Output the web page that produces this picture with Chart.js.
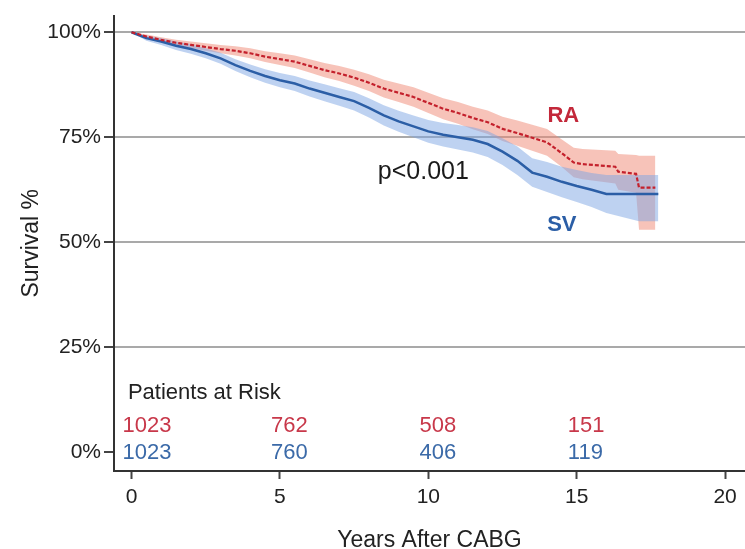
<!DOCTYPE html>
<html>
<head>
<meta charset="utf-8">
<title>Survival after CABG</title>
<script src="https://cdn.jsdelivr.net/npm/chart.js@4.4.0/dist/chart.umd.min.js"></script>
<style>
	html, body { margin: 0; padding: 0; background: #fff; }
	#wrap { width: 745px; height: 549px; }
</style>
</head>
<body>
<div id="wrap"><canvas id="kmChart" width="745" height="549"></canvas></div>
<script>
// RA (radial artery) - 시간, 생존률, 신뢰구간
const raTime = [0, 0.5, 1, 1.5, 2, 2.5, 3, 3.5, 4, 4.5, 5, 5.5, 6, 6.5, 7, 7.5, 8, 8.5, 9, 9.5, 10, 10.5, 11, 11.5, 12, 12.5, 13, 13.5, 14, 14.5, 14.9, 15.2, 16.3, 16.4, 17.0, 17.1, 17.65];
const raSurv = [100, 99.0, 98.2, 97.5, 97.0, 96.5, 96.0, 95.6, 95.0, 94.2, 93.6, 93.0, 92.0, 91.0, 90.2, 89.2, 88.0, 86.6, 85.6, 84.6, 83.2, 81.8, 80.8, 79.6, 78.6, 77.0, 76.0, 74.9, 73.8, 71.2, 69.0, 68.6, 68.0, 66.8, 66.3, 63.0, 63.0];
const raLow = [100, 98.5, 97.6, 96.8, 96.2, 95.6, 95.0, 94.5, 93.8, 92.9, 92.2, 91.5, 90.4, 89.3, 88.4, 87.3, 86.0, 84.5, 83.4, 82.3, 80.8, 79.3, 78.2, 76.9, 75.8, 74.1, 73.0, 71.8, 70.6, 67.9, 65.5, 65.0, 64.0, 62.5, 61.8, 53.0, 53.0];
const raHigh = [100, 99.5, 98.8, 98.2, 97.8, 97.4, 97.0, 96.7, 96.2, 95.5, 95.0, 94.5, 93.6, 92.7, 92.0, 91.1, 90.0, 88.7, 87.8, 86.9, 85.6, 84.3, 83.4, 82.3, 81.4, 79.9, 79.0, 78.0, 77.0, 74.5, 72.5, 72.2, 71.8, 71.0, 70.8, 70.6, 70.6];

// SV (saphenous vein)
const svTime = [0, 0.5, 1, 1.5, 2, 2.5, 3, 3.5, 4, 4.5, 5, 5.5, 6, 6.5, 7, 7.5, 8, 8.5, 9, 9.5, 10, 10.5, 11, 11.5, 12, 12.5, 13, 13.5, 14, 14.5, 15, 15.5, 16, 17.1, 17.75];
const svSurv = [100, 98.6, 97.8, 96.8, 96.0, 95.0, 93.8, 92.2, 90.8, 89.6, 88.6, 87.8, 86.6, 85.6, 84.6, 83.6, 82.0, 80.2, 78.8, 77.6, 76.4, 75.6, 75.0, 74.4, 73.4, 71.6, 69.4, 66.6, 65.6, 64.4, 63.4, 62.5, 61.5, 61.5, 61.5];
const svLow = [100, 98.0, 97.0, 95.8, 94.9, 93.8, 92.5, 90.8, 89.3, 88.0, 86.9, 86.0, 84.7, 83.6, 82.5, 81.4, 79.7, 77.8, 76.3, 75.0, 73.7, 72.8, 72.1, 71.4, 70.3, 68.4, 66.0, 63.2, 62.0, 60.7, 59.6, 58.4, 57.0, 55.0, 55.0];
const svHigh = [100, 99.2, 98.6, 97.8, 97.1, 96.2, 95.1, 93.6, 92.3, 91.2, 90.3, 89.6, 88.5, 87.6, 86.7, 85.8, 84.3, 82.6, 81.3, 80.2, 79.1, 78.4, 77.9, 77.4, 76.5, 74.8, 72.8, 70.0, 69.1, 68.0, 67.2, 66.5, 66.0, 66.0, 66.0];

// 축 눈금
const xTicks = [0, 5, 10, 15, 20];
const yTicks = [0, 25, 50, 75, 100];

// Patients at Risk
const riskYears = [0, 5, 10, 15];
const raRisk = [1023, 762, 508, 151];
const svRisk = [1023, 760, 406, 119];

const FONT = '"Liberation Sans", Arial, Helvetica, sans-serif';
const RED = '#c3283a';
const BLUE = '#2b5ea6';

const toPoints = (xs, ys) => xs.map((x, i) => ({ x: x, y: ys[i] }));

// 텍스트 표시 (RA, SV, p값, 위험 환자 수)
const labelPlugin = {
	id: 'kmLabels',
	afterDatasetsDraw: (chart) => {
		const ctx = chart.ctx;
		const xs = chart.scales.x;
		const ys = chart.scales.y;
		ctx.save();
		ctx.textBaseline = 'middle';

		ctx.font = 'bold 22px ' + FONT;
		ctx.textAlign = 'center';
		ctx.fillStyle = RED;
		ctx.fillText('RA', xs.getPixelForValue(14.55), ys.getPixelForValue(80));
		ctx.fillStyle = BLUE;
		ctx.fillText('SV', xs.getPixelForValue(14.5), ys.getPixelForValue(54.2));

		ctx.font = '25px ' + FONT;
		ctx.textAlign = 'left';
		ctx.fillStyle = '#1a1a1a';
		ctx.fillText('p<0.001', xs.getPixelForValue(8.3), ys.getPixelForValue(66.6));

		ctx.font = '22px ' + FONT;
		ctx.fillStyle = '#222';
		ctx.fillText('Patients at Risk', xs.getPixelForValue(-0.12), ys.getPixelForValue(14.1));

		riskYears.forEach((yr, i) => {
			ctx.fillStyle = '#c8384a';
			ctx.fillText(String(raRisk[i]), xs.getPixelForValue(yr - 0.3), ys.getPixelForValue(6.3));
			ctx.fillStyle = '#3b6aa8';
			ctx.fillText(String(svRisk[i]), xs.getPixelForValue(yr - 0.3), ys.getPixelForValue(-0.2));
		});
		ctx.restore();
	}
};

const kmChart = new Chart(document.getElementById('kmChart'), {
	type: 'line',
	data: {
		datasets: [
			{ // RA 신뢰구간 하한
				data: toPoints(raTime, raLow),
				borderWidth: 0, pointRadius: 0, fill: false, order: 6
			},
			{ // RA 신뢰구간 상한
				data: toPoints(raTime, raHigh),
				borderWidth: 0, pointRadius: 0, order: 5,
				fill: '-1', backgroundColor: 'rgba(240, 135, 115, 0.5)'
			},
			{ // SV 신뢰구간 하한
				data: toPoints(svTime, svLow),
				borderWidth: 0, pointRadius: 0, fill: false, order: 4
			},
			{ // SV 신뢰구간 상한
				data: toPoints(svTime, svHigh),
				borderWidth: 0, pointRadius: 0, order: 3,
				fill: '-1', backgroundColor: 'rgba(125, 165, 228, 0.5)'
			},
			{
				label: 'SV',
				data: toPoints(svTime, svSurv),
				borderColor: BLUE, borderWidth: 2.5, pointRadius: 0, fill: false, order: 2
			},
			{
				label: 'RA',
				data: toPoints(raTime, raSurv),
				borderColor: '#c4202c', borderWidth: 2.2, borderDash: [4, 2], pointRadius: 0, fill: false, order: 1
			}
		]
	},
	options: {
		responsive: false,
		animation: false,
		events: [],
		layout: { padding: { top: 7, right: 0, bottom: 0, left: 0 } },
		plugins: {
			legend: { display: false },
			tooltip: { enabled: false }
		},
		scales: {
			x: {
				type: 'linear',
				min: -0.59,
				max: 20.67,
				afterBuildTicks: (scale) => { scale.ticks = xTicks.map((v) => ({ value: v })); },
				afterFit: (scale) => { scale.height = 78; },
				border: { display: true, color: '#333', width: 2 },
				grid: { drawOnChartArea: false, tickLength: 8, tickColor: '#444', tickWidth: 2 },
				ticks: { color: '#222', padding: 6, maxRotation: 0, font: { family: FONT, size: 21 } },
				title: {
					display: true, text: 'Years After CABG', color: '#222',
					font: { family: FONT, size: 23, lineHeight: 1 }, padding: { top: 0, bottom: -3 }
				}
			},
			y: {
				type: 'linear',
				min: -4.44,
				max: 103.97,
				afterBuildTicks: (scale) => { scale.ticks = yTicks.map((v) => ({ value: v })); },
				afterFit: (scale) => { scale.width = 114; },
				border: { display: true, color: '#333', width: 2 },
				grid: {
					color: (c) => (c.tick && c.tick.value === 0 ? 'rgba(0,0,0,0)' : '#a9a9a9'),
					lineWidth: 2, tickLength: 10, tickColor: '#444', tickWidth: 2
				},
				ticks: {
					color: '#222', padding: 3, font: { family: FONT, size: 21 },
					callback: (v) => v + '%'
				},
				title: {
					display: true, text: 'Survival %', color: '#222',
					font: { family: FONT, size: 23, lineHeight: 1 }, padding: { top: 20, bottom: 0 }
				}
			}
		}
	},
	plugins: [labelPlugin]
});
</script>
</body>
</html>
